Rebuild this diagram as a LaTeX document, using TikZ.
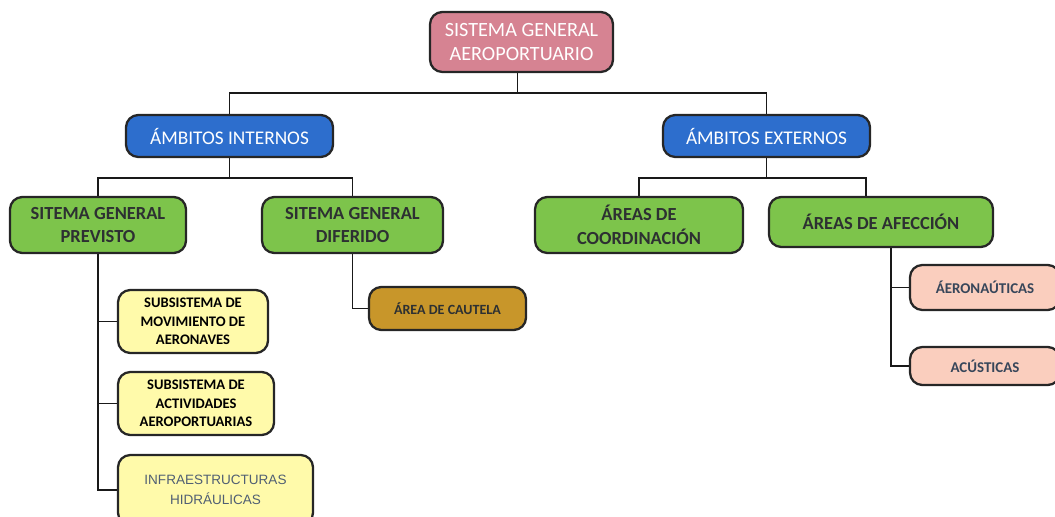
\documentclass[tikz,border=0pt]{standalone}
\usepackage{fontspec}
\setmainfont{Carlito}
\newfontfamily\arialfont{Liberation Sans}
\usetikzlibrary{positioning, calc}

\definecolor{rosaSG}{RGB}{214,131,146}
\definecolor{azulAmb}{RGB}{45,110,205}
\definecolor{verdeSG}{RGB}{125,196,75}
\definecolor{amarSub}{RGB}{255,250,170}
\definecolor{oroCaut}{RGB}{200,150,42}
\definecolor{salmAf}{RGB}{250,206,190}
\definecolor{textoOsc}{RGB}{45,48,50}
\definecolor{textoPiz}{RGB}{55,70,90}
\definecolor{textoGris}{RGB}{80,95,115}

\tikzset{
    caja/.style={draw=black!85, line width=1.3pt, rounded corners=7pt, align=center, inner sep=2pt},
    raiz/.style={caja, fill=rosaSG, text=white, font=\fontsize{11.5}{14}\selectfont},
    ambito/.style={caja, fill=azulAmb, text=white, font=\fontsize{11}{13}\selectfont},
    sistema/.style={caja, fill=verdeSG, text=textoOsc, font=\bfseries\fontsize{10.5}{13.5}\selectfont},
    subsis/.style={caja, fill=amarSub, text=black, font=\bfseries\fontsize{8.3}{10.5}\selectfont},
    cautela/.style={caja, fill=oroCaut, text=textoOsc, font=\bfseries\fontsize{8}{10}\selectfont},
    afeccion/.style={caja, fill=salmAf, text=textoPiz, font=\bfseries\fontsize{8.5}{10}\selectfont},
    enlace/.style={draw=black!90, line width=1.1pt}
}

\begin{document}
\begin{tikzpicture}
    \path[use as bounding box, clip] (0,0) rectangle (21.1,-10.34);

    % nivel 1
    \node[raiz, minimum width=3.66cm, minimum height=1.2cm] (sga) at (10.43,-0.84) {SISTEMA GENERAL\\AEROPORTUARIO};

    % nivel 2
    \node[ambito, minimum width=4.14cm, minimum height=0.84cm] (internos) at (4.59,-2.72) {ÁMBITOS INTERNOS};
    \node[ambito, minimum width=4.14cm, minimum height=0.84cm] (externos) at (15.33,-2.72) {ÁMBITOS EXTERNOS};

    % nivel 3
    \node[sistema, minimum width=3.52cm, minimum height=1.12cm] (previsto) at (1.96,-4.5) {SITEMA GENERAL\\PREVISTO};
    \node[sistema, minimum width=3.62cm, minimum height=1.12cm] (diferido) at (7.05,-4.5) {SITEMA GENERAL\\DIFERIDO};
    \node[sistema, minimum width=4.16cm, minimum height=1.12cm] (coordina) at (12.78,-4.5) {ÁREAS DE\\COORDINACIÓN};
    \node[sistema, minimum width=4.48cm, minimum height=1.0cm] (afeccion) at (17.62,-4.44) {ÁREAS DE AFECCIÓN};

    % nivel 4
    \node[subsis, minimum width=3.0cm, minimum height=1.26cm] (movim) at (3.86,-6.43) {SUBSISTEMA DE\\MOVIMIENTO DE\\AERONAVES};
    \node[subsis, minimum width=3.12cm, minimum height=1.26cm] (activ) at (3.92,-8.07) {SUBSISTEMA DE\\ACTIVIDADES\\AEROPORTUARIAS};
    \node[subsis, minimum width=3.9cm, minimum height=1.4cm, font=\arialfont\fontsize{7.7}{11.5}\selectfont, text=textoGris] (hidra) at (4.31,-9.8) {INFRAESTRUCTURAS\\HIDRÁULICAS};
    \node[cautela, minimum width=3.14cm, minimum height=0.86cm] (cautela) at (8.95,-6.17) {ÁREA DE CAUTELA};
    \node[afeccion, minimum width=3.0cm, minimum height=0.9cm] (aero) at (19.7,-5.75) {ÁERONAÚTICAS};
    \node[afeccion, minimum width=3.0cm, minimum height=0.76cm] (acus) at (19.7,-7.32) {ACÚSTICAS};

    % conectores
    \coordinate (bus1) at (10.35,-1.86);
    \draw[enlace] (sga.south -| bus1) -- (bus1) -| (internos.north);
    \draw[enlace] (bus1) -| (externos.north);

    \coordinate (bus2) at (4.59,-3.56);
    \draw[enlace] (internos.south) -- (bus2) -| (previsto.north);
    \draw[enlace] (bus2) -| (diferido.north);

    \coordinate (bus3) at (15.33,-3.56);
    \draw[enlace] (externos.south) -- (bus3) -| (coordina.north);
    \draw[enlace] (bus3) -| ([xshift=-0.3cm]afeccion.north);

    \draw[enlace] (previsto.south) |- (movim.west);
    \draw[enlace] (previsto.south) |- (activ.west);
    \draw[enlace] (previsto.south) |- (hidra.west);
    \draw[enlace] (diferido.south) |- (cautela.west);
    \draw[enlace] ([xshift=0.2cm]afeccion.south) |- (aero.west);
    \draw[enlace] ([xshift=0.2cm]afeccion.south) |- (acus.west);
\end{tikzpicture}
\end{document}
